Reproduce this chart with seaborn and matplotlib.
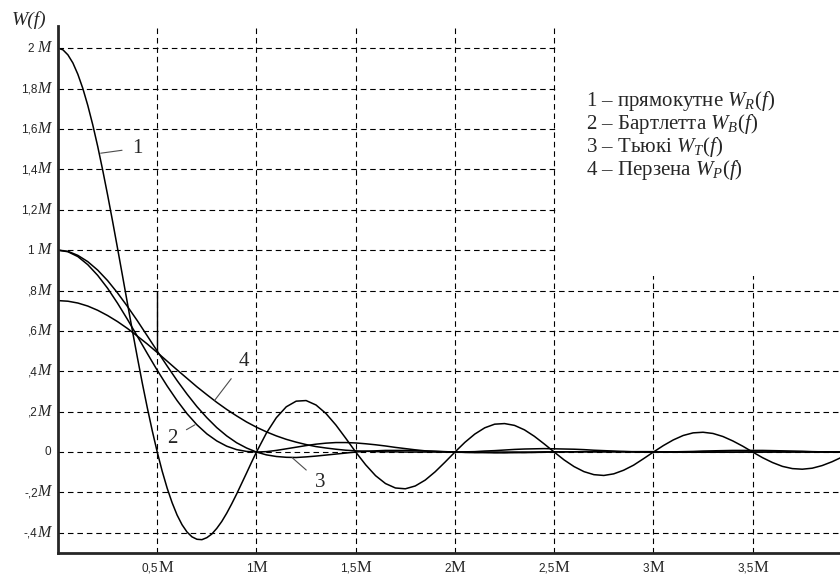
import numpy as np
import pandas as pd
import matplotlib
matplotlib.use("Agg")
import matplotlib.pyplot as plt
from matplotlib.patches import Rectangle
from matplotlib.ticker import MultipleLocator
from matplotlib.offsetbox import TextArea, HPacker, AnnotationBbox
import seaborn as sns

sns.set_style("white")
plt.rcParams['font.family'] = ['Liberation Sans', 'DejaVu Sans']
plt.rcParams['mathtext.fontset'] = 'custom'
plt.rcParams['mathtext.rm'] = 'Liberation Serif'
plt.rcParams['mathtext.it'] = 'Liberation Serif:italic'
plt.rcParams['axes.axisbelow'] = True

# frequency samples, in units of M (0 .. 3.95 step 0.05)
f = np.linspace(0, 3.95, 80)
# rectangular window is sampled finer on its main lobe (0 .. 0.975 step 0.025)
f_rect = np.concatenate([np.linspace(0, 0.975, 40), np.linspace(1.0, 3.95, 60)])

# 1 - rectangular window
w_rect = [2.000, 1.992, 1.967, 1.927, 1.871, 1.801, 1.717, 1.621, 1.514, 1.397,
          1.273, 1.143, 1.009, 0.873, 0.736, 0.600, 0.468, 0.340, 0.219, 0.105,
          0.000, -0.095, -0.179, -0.251, -0.312, -0.360, -0.396, -0.420, -0.432, -0.434,
          -0.424, -0.406, -0.378, -0.344, -0.303, -0.257, -0.208, -0.156, -0.104, -0.051,
          0.000, 0.094, 0.170, 0.224, 0.252, 0.255, 0.233, 0.191, 0.134, 0.068,
          0.000, -0.063, -0.117, -0.156, -0.178, -0.182, -0.168, -0.139, -0.098, -0.050,
          0.000, 0.048, 0.089, 0.120, 0.138, 0.141, 0.132, 0.110, 0.078, 0.040,
          0.000, -0.039, -0.072, -0.097, -0.112, -0.116, -0.108, -0.090, -0.065, -0.033,
          0.000, 0.032, 0.060, 0.082, 0.095, 0.098, 0.092, 0.077, 0.055, 0.029,
          0.000, -0.028, -0.052, -0.071, -0.082, -0.085, -0.080, -0.067, -0.048, -0.025]

# 2 - Bartlett
w_bart = [1.000, 0.992, 0.968, 0.928, 0.875, 0.811, 0.737, 0.657, 0.573, 0.488,
          0.405, 0.327, 0.255, 0.190, 0.135, 0.090, 0.055, 0.029, 0.012, 0.003,
          0.000, 0.002, 0.008, 0.016, 0.024, 0.032, 0.039, 0.044, 0.047, 0.047,
          0.045, 0.041, 0.036, 0.030, 0.023, 0.017, 0.011, 0.006, 0.003, 0.001,
          0.000, 0.001, 0.002, 0.005, 0.007, 0.010, 0.013, 0.015, 0.016, 0.017,
          0.016, 0.015, 0.014, 0.012, 0.009, 0.007, 0.005, 0.003, 0.001, 0.000,
          0.000, 0.000, 0.001, 0.002, 0.003, 0.005, 0.006, 0.007, 0.008, 0.008,
          0.008, 0.008, 0.007, 0.006, 0.005, 0.004, 0.002, 0.001, 0.001, 0.000]

# 3 - Tukey
w_tukey = [1.000, 0.994, 0.974, 0.943, 0.901, 0.849, 0.788, 0.721, 0.650, 0.575,
           0.500, 0.426, 0.354, 0.287, 0.225, 0.170, 0.121, 0.080, 0.046, 0.020,
           0.000, -0.014, -0.022, -0.026, -0.027, -0.024, -0.020, -0.015, -0.010, -0.005,
           0.000, 0.004, 0.006, 0.008, 0.008, 0.008, 0.007, 0.005, 0.004, 0.002,
           0.000, -0.002, -0.003, -0.003, -0.004, -0.004, -0.003, -0.003, -0.002, -0.001,
           0.000, 0.001, 0.001, 0.002, 0.002, 0.002, 0.002, 0.001, 0.001, 0.000,
           0.000, 0.000, -0.001, -0.001, -0.001, -0.001, -0.001, -0.001, -0.001, 0.000,
           0.000, 0.000, 0.001, 0.001, 0.001, 0.001, 0.001, 0.001, 0.000, 0.000]

# 4 - Parzen
w_parzen = [0.750, 0.747, 0.738, 0.723, 0.702, 0.676, 0.646, 0.612, 0.574, 0.535,
            0.493, 0.450, 0.407, 0.365, 0.323, 0.284, 0.246, 0.211, 0.179, 0.149,
            0.123, 0.100, 0.080, 0.063, 0.049, 0.037, 0.027, 0.020, 0.014, 0.009,
            0.006, 0.004, 0.002, 0.001, 0.001, 0.000, 0.000, 0.000, 0.000, 0.000,
            0.000, 0.000, 0.000, 0.000, 0.000, 0.000, 0.000, 0.000, 0.000, 0.001,
            0.001, 0.001, 0.001, 0.001, 0.001, 0.001, 0.001, 0.002, 0.002, 0.002,
            0.002, 0.001, 0.001, 0.001, 0.001, 0.001, 0.001, 0.001, 0.000, 0.000,
            0.000, 0.000, 0.000, 0.000, 0.000, 0.000, 0.000, 0.000, 0.000, 0.000]

x_ticks = [0.5, 1.0, 1.5, 2.0, 2.5, 3.0, 3.5]
x_nums = ["0,5", "1", "1,5", "2", "2,5", "3", "3,5"]
y_ticks = [-0.4, -0.2, 0.0, 0.2, 0.4, 0.6, 0.8, 1.0, 1.2, 1.4, 1.6, 1.8, 2.0]
y_nums = ["-,4", "-,2", "0", ",2", ",4", ",6", ",8", "1 ", "1,2", "1,4", "1,6", "1,8", "2 "]

legend_lines = ["1 – прямокутне $W_R(f)$",
                "2 – Бартлетта $W_B(f)$",
                "3 – Тьюкі $W_T(f)$",
                "4 – Перзена $W_P(f)$"]

df = pd.concat([
    pd.DataFrame({"f": f_rect, "W": w_rect, "window": "1"}),
    pd.DataFrame({"f": f, "W": w_bart, "window": "2"}),
    pd.DataFrame({"f": f, "W": w_tukey, "window": "3"}),
    pd.DataFrame({"f": f, "W": w_parzen, "window": "4"}),
], ignore_index=True)

fig = plt.figure(figsize=(8.4, 5.79), dpi=100)
ax = fig.add_axes([58 / 840, 26 / 579, 1 - 58 / 840, 527 / 579])

sns.lineplot(data=df, x="f", y="W", units="window", estimator=None, sort=False,
             color="black", linewidth=1.1, ax=ax, zorder=2)

ax.set_xlim(0, 3.94)
ax.set_ylim(-0.5, 2.11)
ax.set_xlabel("")
ax.set_ylabel("")

ax.set_xticks(x_ticks)
ax.set_yticks(y_ticks)
ax.set_xticklabels([])
ax.set_yticklabels([])
ax.xaxis.set_minor_locator(MultipleLocator(0.125))
ax.yaxis.set_minor_locator(MultipleLocator(0.05))
ax.tick_params(which="major", direction="inout", length=7, width=1)
ax.tick_params(axis="x", which="minor", direction="out", length=3, width=0.8)
ax.tick_params(axis="y", which="minor", direction="in", length=3, width=0.8)

num_props = dict(size=8.5, family="Liberation Sans")
# tick labels: small sans digits followed by a larger serif M
for v, s in zip(y_ticks, y_nums):
    parts = [TextArea(s, textprops=num_props)]
    if s != "0":
        parts.append(TextArea("M", textprops=dict(size=11.5, family="Liberation Serif", style="italic")))
    box = HPacker(children=parts, pad=0, sep=0, align="baseline")
    ax.add_artist(AnnotationBbox(box, (0, v), xycoords=("axes fraction", "data"),
                                 xybox=(-5, 0), boxcoords="offset points",
                                 box_alignment=(1, 0.5), frameon=False, annotation_clip=False))
for v, s in zip(x_ticks, x_nums):
    parts = [TextArea(s, textprops=num_props),
             TextArea("M", textprops=dict(size=12, family="Liberation Serif"))]
    box = HPacker(children=parts, pad=0, sep=0, align="baseline")
    ax.add_artist(AnnotationBbox(box, (v, 0), xycoords=("data", "axes fraction"),
                                 xybox=(0, -5), boxcoords="offset points",
                                 box_alignment=(0.5, 1), frameon=False, annotation_clip=False))

ax.grid(True, which="major", color="black", linestyle=(0, (5, 3.5)), linewidth=0.8)
for s in ["top", "right"]:
    ax.spines[s].set_visible(False)
for s in ["left", "bottom"]:
    ax.spines[s].set_linewidth(2)

# blank area behind the legend text
ax.add_patch(Rectangle((2.51, 0.87), 2.0, 1.5, facecolor="white", edgecolor="none", zorder=1))

# marker at f = 0.5M
ax.vlines(0.5, 0.5, 0.8, color="black", linewidth=1, zorder=2)

lab = dict(family="Liberation Serif", fontsize=15, ha="center", va="center")
arr = dict(arrowstyle="-", color="0.3", lw=0.8, shrinkA=5, shrinkB=0)
ax.annotate("1", xy=(0.215, 1.48), xytext=(0.40, 1.505), arrowprops=arr, **lab)
ax.annotate("2", xy=(0.69, 0.135), xytext=(0.574, 0.069), arrowprops=arr, **lab)
ax.annotate("3", xy=(1.18, -0.028), xytext=(1.32, -0.149), arrowprops=arr, **lab)
ax.annotate("4", xy=(0.79, 0.257), xytext=(0.937, 0.446), arrowprops=arr, **lab)

for i, line in enumerate(legend_lines):
    fig.text(586 / 840, 1 - (101 + 23 * i) / 579, line, family="Liberation Serif",
             fontsize=15, va="center", ha="left")

fig.text(29 / 840, 1 - 20 / 579, "W(f)", family="Liberation Serif", style="italic",
         fontsize=14, ha="center", va="center")

fig.savefig("out.png", dpi=100)
